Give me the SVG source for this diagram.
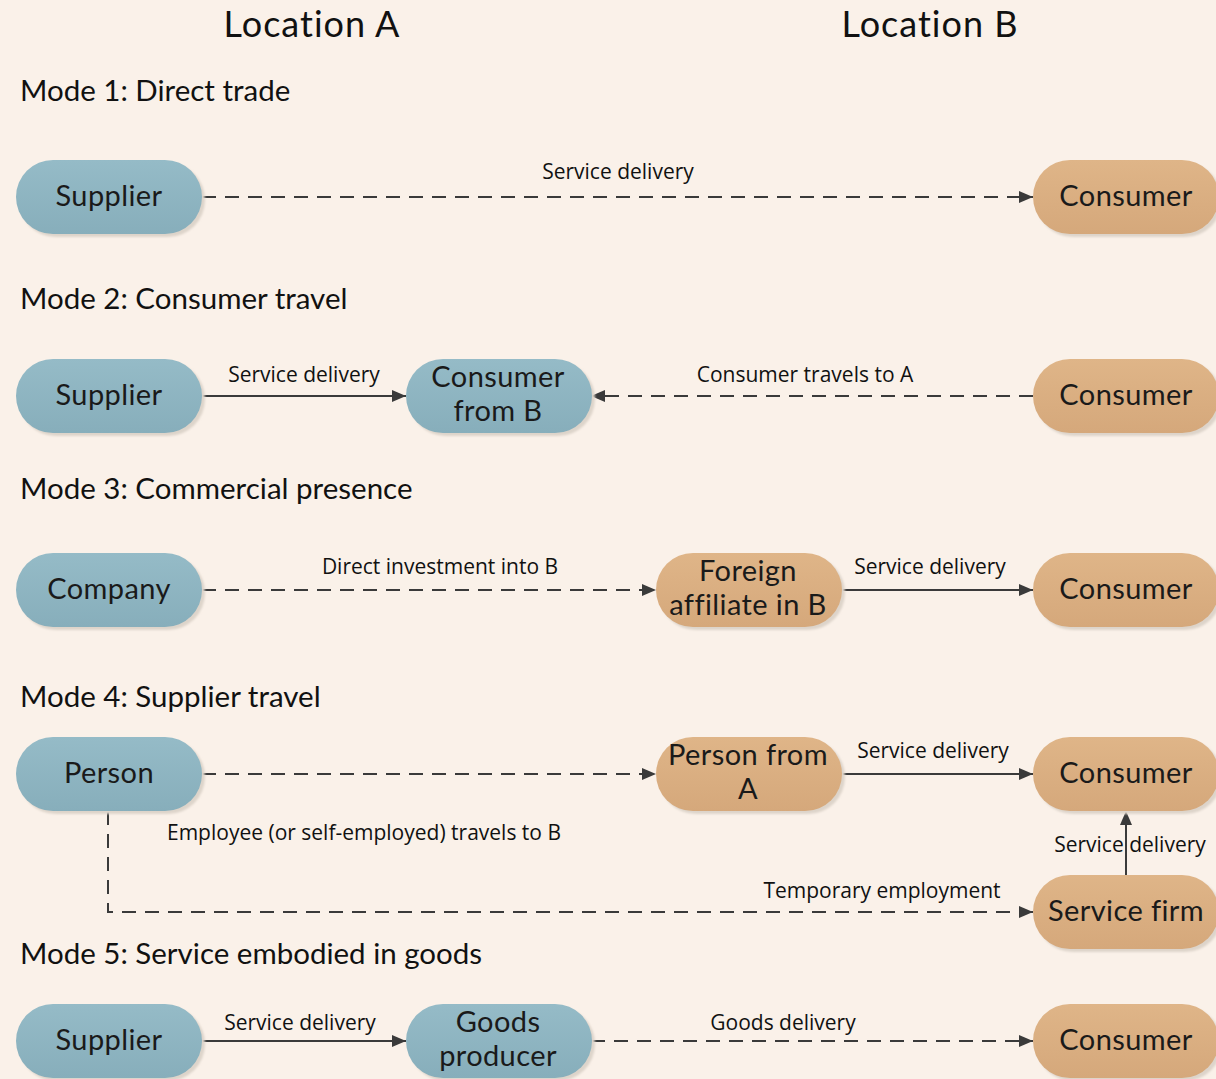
<svg xmlns="http://www.w3.org/2000/svg" width="1216" height="1079" viewBox="0 0 1216 1079">
  <defs>
    <linearGradient id="gBlue" x1="0" y1="0" x2="0" y2="1">
      <stop offset="0" stop-color="#95bbc7"/>
      <stop offset="1" stop-color="#87aebb"/>
    </linearGradient>
    <linearGradient id="gOrange" x1="0" y1="0" x2="0" y2="1">
      <stop offset="0" stop-color="#dfb588"/>
      <stop offset="1" stop-color="#d5a87b"/>
    </linearGradient>
    <filter id="soft" x="-10%" y="-20%" width="120%" height="140%">
      <feGaussianBlur stdDeviation="1.2"/>
    </filter>
    <marker id="arrow" viewBox="0 0 14 12" refX="14" refY="6" markerWidth="14" markerHeight="12" markerUnits="userSpaceOnUse" orient="auto">
      <path d="M0,0 L14,6 L0,12 Z" fill="#3a3a3a"/>
    </marker>
  </defs>
  <style>
    .title { font-family: Lato, "Open Sans", "DejaVu Sans", sans-serif; font-size: 36px; letter-spacing: 1px; fill: #111; }
    .mode { font-family: Lato, "Open Sans", "DejaVu Sans", sans-serif; font-size: 29.5px; fill: #111; }
    .ntext { font-family: Lato, "Open Sans", "DejaVu Sans", sans-serif; font-size: 29px; letter-spacing: 0.4px; fill: #1a1a1a; text-anchor: middle; }
    .elabel { font-family: "Open Sans", "Noto Sans", "DejaVu Sans", sans-serif; font-size: 21px; fill: #111; }
    .shadow { fill: #ddd4ca; filter: url(#soft); }
    .blue { fill: url(#gBlue); }
    .orange { fill: url(#gOrange); }
    .solid { stroke: #3a3a3a; stroke-width: 2; fill: none; marker-end: url(#arrow); }
    .dash { stroke: #3a3a3a; stroke-width: 2; fill: none; stroke-dasharray: 14 9; marker-end: url(#arrow); }
  </style>

  <rect width="1216" height="1079" fill="#faf1e9"/>

  <!-- column headings -->
  <text class="title" x="312" y="37" text-anchor="middle">Location A</text>
  <text class="title" x="930" y="37" text-anchor="middle">Location B</text>

  <!-- mode headings -->
  <text class="mode" x="20" y="101">Mode 1: Direct trade</text>
  <text class="mode" x="20" y="309">Mode 2: Consumer travel</text>
  <text class="mode" x="20" y="499">Mode 3: Commercial presence</text>
  <text class="mode" x="20" y="707">Mode 4: Supplier travel</text>
  <text class="mode" x="20" y="964">Mode 5: Service embodied in goods</text>

  <!-- connectors -->
  <g id="connectors">
    <line class="dash" x1="202" y1="197" x2="1033" y2="197"/>
    <line class="solid" x1="202" y1="396" x2="406" y2="396"/>
    <line class="dash" x1="1033" y1="396" x2="591" y2="396"/>
    <line class="dash" x1="202" y1="590" x2="656" y2="590"/>
    <line class="solid" x1="841" y1="590" x2="1033" y2="590"/>
    <line class="dash" x1="202" y1="774" x2="656" y2="774"/>
    <line class="solid" x1="841" y1="774" x2="1033" y2="774"/>
    <path class="dash" d="M108,811 L108,912 L1033,912"/>
    <line class="solid" x1="1126" y1="875" x2="1126" y2="811"/>
    <line class="solid" x1="202" y1="1041" x2="406" y2="1041"/>
    <line class="dash" x1="591" y1="1041" x2="1033" y2="1041"/>
  </g>

  <!-- connector labels -->
  <g id="connector-labels">
    <text class="elabel" x="618" y="179" text-anchor="middle">Service delivery</text>
    <text class="elabel" x="304" y="382" text-anchor="middle">Service delivery</text>
    <text class="elabel" x="805" y="382" text-anchor="middle">Consumer travels to A</text>
    <text class="elabel" x="440" y="574" text-anchor="middle">Direct investment into B</text>
    <text class="elabel" x="930" y="574" text-anchor="middle">Service delivery</text>
    <text class="elabel" x="933" y="758" text-anchor="middle">Service delivery</text>
    <text class="elabel" x="364" y="840" text-anchor="middle">Employee (or self-employed) travels to B</text>
    <text class="elabel" x="882" y="898" text-anchor="middle">Temporary employment</text>
    <text class="elabel" x="1130" y="852" text-anchor="middle">Service delivery</text>
    <text class="elabel" x="300" y="1030" text-anchor="middle">Service delivery</text>
    <text class="elabel" x="783" y="1030" text-anchor="middle">Goods delivery</text>
  </g>

  <!-- Mode 1 -->
  <g id="m1-supplier">
    <rect class="shadow" x="19" y="163" width="186" height="74" rx="37"/>
    <rect class="blue" x="16" y="160" width="186" height="74" rx="37"/>
    <text class="ntext" x="109" y="206">Supplier</text>
  </g>
  <g id="m1-consumer">
    <rect class="shadow" x="1036" y="163" width="186" height="74" rx="37"/>
    <rect class="orange" x="1033" y="160" width="186" height="74" rx="37"/>
    <text class="ntext" x="1126" y="206">Consumer</text>
  </g>

  <!-- Mode 2 -->
  <g id="m2-supplier">
    <rect class="shadow" x="19" y="362" width="186" height="74" rx="37"/>
    <rect class="blue" x="16" y="359" width="186" height="74" rx="37"/>
    <text class="ntext" x="109" y="405">Supplier</text>
  </g>
  <g id="m2-consumer-from-b">
    <rect class="shadow" x="409" y="362" width="186" height="74" rx="37"/>
    <rect class="blue" x="406" y="359" width="186" height="74" rx="37"/>
    <text class="ntext" x="498" y="387">Consumer</text>
    <text class="ntext" x="498" y="421">from B</text>
  </g>
  <g id="m2-consumer">
    <rect class="shadow" x="1036" y="362" width="186" height="74" rx="37"/>
    <rect class="orange" x="1033" y="359" width="186" height="74" rx="37"/>
    <text class="ntext" x="1126" y="405">Consumer</text>
  </g>

  <!-- Mode 3 -->
  <g id="m3-company">
    <rect class="shadow" x="19" y="556" width="186" height="74" rx="37"/>
    <rect class="blue" x="16" y="553" width="186" height="74" rx="37"/>
    <text class="ntext" x="109" y="599">Company</text>
  </g>
  <g id="m3-foreign-affiliate">
    <rect class="shadow" x="659" y="556" width="186" height="74" rx="37"/>
    <rect class="orange" x="656" y="553" width="186" height="74" rx="37"/>
    <text class="ntext" x="748" y="581">Foreign</text>
    <text class="ntext" x="748" y="615">affiliate in B</text>
  </g>
  <g id="m3-consumer">
    <rect class="shadow" x="1036" y="556" width="186" height="74" rx="37"/>
    <rect class="orange" x="1033" y="553" width="186" height="74" rx="37"/>
    <text class="ntext" x="1126" y="599">Consumer</text>
  </g>

  <!-- Mode 4 -->
  <g id="m4-person">
    <rect class="shadow" x="19" y="740" width="186" height="74" rx="37"/>
    <rect class="blue" x="16" y="737" width="186" height="74" rx="37"/>
    <text class="ntext" x="109" y="783">Person</text>
  </g>
  <g id="m4-person-from-a">
    <rect class="shadow" x="659" y="740" width="186" height="74" rx="37"/>
    <rect class="orange" x="656" y="737" width="186" height="74" rx="37"/>
    <text class="ntext" x="748" y="765">Person from</text>
    <text class="ntext" x="748" y="799">A</text>
  </g>
  <g id="m4-consumer">
    <rect class="shadow" x="1036" y="740" width="186" height="74" rx="37"/>
    <rect class="orange" x="1033" y="737" width="186" height="74" rx="37"/>
    <text class="ntext" x="1126" y="783">Consumer</text>
  </g>
  <g id="m4-service-firm">
    <rect class="shadow" x="1036" y="878" width="186" height="74" rx="37"/>
    <rect class="orange" x="1033" y="875" width="186" height="74" rx="37"/>
    <text class="ntext" x="1126" y="921">Service firm</text>
  </g>

  <!-- Mode 5 -->
  <g id="m5-supplier">
    <rect class="shadow" x="19" y="1007" width="186" height="74" rx="37"/>
    <rect class="blue" x="16" y="1004" width="186" height="74" rx="37"/>
    <text class="ntext" x="109" y="1050">Supplier</text>
  </g>
  <g id="m5-goods-producer">
    <rect class="shadow" x="409" y="1007" width="186" height="74" rx="37"/>
    <rect class="blue" x="406" y="1004" width="186" height="74" rx="37"/>
    <text class="ntext" x="498" y="1032">Goods</text>
    <text class="ntext" x="498" y="1066">producer</text>
  </g>
  <g id="m5-consumer">
    <rect class="shadow" x="1036" y="1007" width="186" height="74" rx="37"/>
    <rect class="orange" x="1033" y="1004" width="186" height="74" rx="37"/>
    <text class="ntext" x="1126" y="1050">Consumer</text>
  </g>
</svg>
